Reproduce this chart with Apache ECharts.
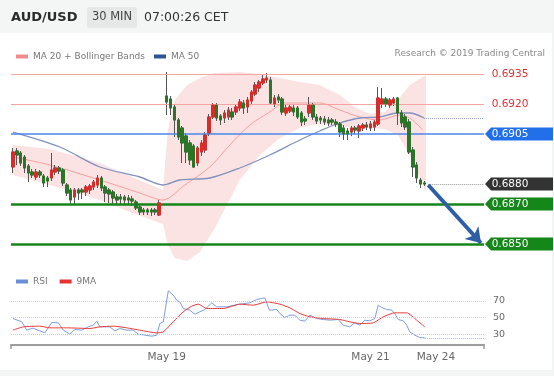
<!DOCTYPE html>
<html><head><meta charset="utf-8">
<script src="https://cdn.jsdelivr.net/npm/echarts@6/dist/echarts.min.js"></script>
<style>html,body{margin:0;padding:0;background:#fff}#c{width:554px;height:376px}</style>
</head><body><div id="c"></div>
<script>
const FONT = 'DejaVu Sans';
const SLOT_COUNT = 123;           // category slots across the plot
const GAP_SLOT = 39;              // weekend gap
const tickSlots = [40, 93, 110];
const tickLabels = ['May 19', 'May 21', 'May 24'];

// ---- candles (39 before the gap, 68 after) ----
const candleOpen = [
 .68885,.68965,.68955,.68935,.68890,.68860,.68835,.68860,.68840,.68830,.68830,.68860,.68880,.68870,.68795,.68770,.68735,.68770,.68770,.68760,
 .68770,.68785,.68795,.68830,.68785,.68770,.68760,.68735,.68735,.68735,.68730,.68725,.68710,.68685,.68670,.68670,.68670,.68670,.68645,
 .69240,.69225,.69185,.69120,.69080,.69040,.69005,.68990,.68905,.68960,.68970,.69055,.69135,.69195,.69140,.69130,.69135,.69160,.69160,.69180,
 .69205,.69185,.69215,.69250,.69280,.69305,.69320,.69320,.69200,.69235,.69225,.69155,.69165,.69180,.69180,.69155,.69125,.69155,.69195,.69135,
 .69130,.69125,.69120,.69120,.69110,.69100,.69080,.69065,.69060,.69080,.69065,.69080,.69095,.69080,.69085,.69100,.69200,.69225,.69195,.69205,
 .69230,.69155,.69135,.69110,.68970,.68895,.68820,.68805];
const candleClose = [
 .68960,.68945,.68905,.68880,.68855,.68845,.68860,.68845,.68805,.68815,.68870,.68880,.68865,.68805,.68755,.68720,.68770,.68755,.68760,.68785,
 .68790,.68810,.68830,.68780,.68755,.68750,.68730,.68720,.68725,.68720,.68720,.68715,.68680,.68660,.68660,.68660,.68660,.68660,.68705,
 .69210,.69180,.69120,.69035,.69005,.68960,.68920,.68885,.68980,.69005,.69045,.69135,.69195,.69130,.69120,.69155,.69170,.69135,.69185,.69210,
 .69180,.69220,.69260,.69295,.69310,.69325,.69330,.69205,.69230,.69220,.69160,.69180,.69185,.69160,.69135,.69110,.69115,.69195,.69135,.69115,
 .69120,.69110,.69105,.69110,.69100,.69060,.69050,.69050,.69080,.69070,.69090,.69095,.69085,.69100,.69110,.69230,.69225,.69200,.69220,.69225,
 .69155,.69105,.69085,.68960,.68885,.68830,.68800,.68800];
const candleLow = [
 .68855,.68895,.68890,.68855,.68810,.68830,.68820,.68830,.68785,.68785,.68815,.68845,.68850,.68790,.68740,.68695,.68700,.68720,.68725,.68740,
 .68750,.68770,.68780,.68765,.68710,.68705,.68700,.68695,.68695,.68700,.68695,.68690,.68670,.68645,.68645,.68645,.68640,.68645,.68640,
 .69145,.69145,.69035,.69020,.68905,.68905,.68895,.68880,.68890,.68940,.68955,.69040,.69125,.69115,.69095,.69105,.69120,.69120,.69145,.69165,
 .69150,.69155,.69200,.69240,.69260,.69295,.69305,.69195,.69185,.69205,.69145,.69140,.69155,.69140,.69125,.69090,.69095,.69135,.69120,.69100,
 .69100,.69095,.69090,.69095,.69085,.69035,.69020,.69020,.69040,.69050,.69030,.69065,.69070,.69065,.69065,.69090,.69180,.69185,.69180,.69190,
 .69095,.69085,.69070,.68950,.68835,.68805,.68780,.68790];
const candleHigh = [
 .68980,.68980,.68965,.68945,.68900,.68875,.68875,.68870,.68850,.68840,.68955,.68895,.68890,.68880,.68805,.68780,.68780,.68780,.68780,.68795,
 .68800,.68820,.68845,.68840,.68795,.68780,.68770,.68750,.68750,.68745,.68745,.68740,.68720,.68695,.68680,.68680,.68680,.68680,.68720,
 .69360,.69240,.69200,.69130,.69090,.69055,.69020,.69000,.68990,.69020,.69060,.69150,.69205,.69205,.69150,.69170,.69185,.69180,.69200,.69225,
 .69220,.69235,.69270,.69310,.69320,.69345,.69355,.69335,.69245,.69250,.69235,.69195,.69200,.69195,.69190,.69165,.69140,.69235,.69205,.69150,
 .69140,.69140,.69135,.69130,.69125,.69110,.69095,.69080,.69090,.69090,.69100,.69105,.69110,.69115,.69120,.69285,.69280,.69235,.69230,.69235,
 .69235,.69170,.69150,.69125,.68985,.68910,.68830,.68815];

// ---- indicator lines: [slot, price] ----
const ma20Slots  = [0, 9.6, 22.6, 33.0, 39.0, 44.7, 51.2, 56.4, 61.6, 66.8, 70.7, 79.8, 85.0, 90.2, 95.4, 100.6, 103.2, 106.6];
const ma20Values = [.68935,.68895,.68820,.68755,.68720,.68795,.68885,.68995,.69095,.69160,.69205,.69205,.69170,.69135,.69120,.69145,.69130,.69070];
const ma50Slots  = [0, 12.2, 22.6, 33.0, 39.0, 43.4, 51.2, 59.0, 66.8, 74.6, 79.8, 85.0, 90.2, 95.4, 99.9, 103.2, 106.9];
const ma50Values = [.69060,.68985,.68885,.68835,.68795,.68820,.68830,.68880,.68945,.69020,.69065,.69105,.69130,.69135,.69155,.69155,.69130];
const bbSlots = [0, 9.6, 22.6, 30.4, 39.0, 40.3, 42.1, 45.3, 48.6, 52.5, 59.0, 64.2, 69.4, 74.6, 79.8, 85.0, 88.9, 92.8, 96.7, 100.1, 103.2, 107.4];
const bbUpper = [.68995,.68975,.68905,.68840,.68770,.69070,.69220,.69295,.69330,.69355,.69360,.69350,.69330,.69310,.69295,.69245,.69185,.69150,.69160,.69220,.69295,.69345];
const bbLower = [.68845,.68795,.68720,.68660,.68600,.68495,.68430,.68415,.68460,.68580,.68820,.68945,.69030,.69080,.69100,.69090,.69080,.69080,.69075,.69045,.68945,.68760];

// ---- levels, tags, forecast arrow ----
const levelValues = [0.6935, 0.6920, 0.6905, 0.6880, 0.6870, 0.6850];
const levelKinds  = ['res', 'res', 'pivot', 'last', 'sup', 'sup'];
const lastFromSlot = 108;
const ma50LastValue = 0.69130;
const arrowFrom = [108, 0.68795];
const arrowTo   = [121.7, 0.68505];

// ---- RSI panel ----
const rsiSlots  = [0,2.3,3.6,5.2,7.0,8.3,10.1,11.8,13.1,14.8,16.1,17.9,19.6,20.9,21.8,22.6,25.2,26.5,27.8,29.6,31.3,32.6,34.3,36.1,37.4,38.2,39.1,
 40.4,41.7,42.6,43.4,44.3,46.0,47.3,48.6,49.9,51.7,53.0,55.6,59.0,61.6,63.4,65.5,66.7,68.6,69.4,70.7,72.0,73.3,74.6,75.9,77.2,79.0,80.7,82.4,84.6,
 85.9,87.6,88.9,90.2,91.5,92.8,94.1,95.0,95.9,97.2,98.5,99.3,100.2,101.5,102.4,103.2,104.5,105.8,107.1];
const rsiValues = [48.8,44.8,34.8,37.2,34.0,31.6,44.0,43.6,34.8,30.0,35.6,34.8,38.8,40.8,45.6,38.8,38.8,34.0,36.8,34.8,34.8,30.0,28.8,27.6,28.8,42.8,44.8,
 82.0,76.8,70.8,68.8,60.8,58.8,54.0,56.8,59.6,67.6,62.8,62.8,66.0,67.6,71.6,73.6,58.8,59.6,54.8,50.0,52.8,52.8,46.8,45.6,52.8,48.8,47.6,46.8,47.6,
 40.8,38.8,43.6,40.8,46.8,46.0,48.8,64.8,62.0,59.6,58.8,54.8,47.6,46.0,40.8,32.8,28.8,26.0,25.6];
const ma9Slots  = [0,2.7,7.0,9.6,14.0,20.0,22.6,26.1,29.6,33.0,37.4,39.1,41.7,44.3,46.5,48.2,50.4,54.7,59.0,62.5,66.0,69.4,72.0,74.6,77.2,80.7,85.0,87.6,90.2,93.7,96.3,99.3,102.4,105.0,107.1];
const ma9Values = [34.8,38.8,39.6,37.6,37.6,36.8,38.8,39.6,37.6,34.8,31.6,32.8,44.8,56.8,63.6,66.0,60.8,60.8,66.0,64.8,68.8,66.0,61.6,54.8,50.8,48.8,47.6,44.8,42.8,43.6,50.8,55.6,55.6,46.8,38.8];
const rsiLevels = [70, 50, 30];
const rsiLastValue = 25.6;

// ---- build ----
const cats = Array.from({length: SLOT_COUNT}, () => '');
tickSlots.forEach((s, i) => { cats[s] = tickLabels[i]; });
const wickData = [], bodyData = [];
let ci = 0;
for (let s = 0; s < candleOpen.length + 1; s++) {
  if (s === GAP_SLOT) { wickData.push('-'); bodyData.push('-'); continue; }
  const o = candleOpen[ci], c = candleClose[ci], l = candleLow[ci], h = candleHigh[ci];
  wickData.push([o, c, l, h]);
  bodyData.push([o, c, Math.min(o, c), Math.max(o, c)]);
  ci++;
}
const pairs = (xs, ys) => xs.map((x, i) => [x, ys[i]]);
const X0 = -0.5, X1 = SLOT_COUNT - 0.5;

const RED = '#d82c2a', GREEN = '#2b7529';
const levelStyle = {
  res:   {color: '#f5a3a3', width: 1, type: 'solid'},
  pivot: {color: '#4b87ea', width: 1.5, type: 'solid'},
  last:  null,
  sup:   {color: '#15861a', width: 2.5, type: 'solid'}
};
const tagStyle = {
  res:   {fill: 'rgba(0,0,0,0)', text: '#e4312f'},
  pivot: {fill: '#2270e9', text: '#fff'},
  last:  {fill: '#333333', text: '#fff'},
  sup:   {fill: '#15861a', text: '#fff'}
};
const levelLines = [];
levelValues.forEach((v, i) => {
  const st = levelStyle[levelKinds[i]];
  if (st) levelLines.push([{coord: [X0, v], lineStyle: st}, {coord: [X1, v]}]);
});
levelLines.push([{coord: [lastFromSlot, levelValues[3]], lineStyle: {color: '#9a9a9a', width: 1, type: 'dotted'}}, {coord: [X1, levelValues[3]]}]);
levelLines.push([{coord: [ma50Slots[ma50Slots.length - 1], ma50LastValue], lineStyle: {color: '#9aa6c8', width: 1, type: 'dotted'}}, {coord: [X1, ma50LastValue]}]);

const tagPoints = levelValues.map((v, i) => {
  const t = tagStyle[levelKinds[i]];
  return {coord: [X1, v], name: v.toFixed(4), itemStyle: {color: t.fill}, label: {color: t.text}};
});

const chart = echarts.init(document.getElementById('c'), null, {renderer: 'canvas', width: 554, height: 376});
const txt = (x, y, text, size, fill, weight, align) => ({
  type: 'text', x, y, silent: true,
  style: {text, fontSize: size, fontFamily: FONT, fontWeight: weight || 'normal', fill, align: align || 'left', verticalAlign: 'middle'}
});

chart.setOption({
  animation: false,
  backgroundColor: '#ffffff',
  textStyle: {fontFamily: FONT},
  graphic: [
    {type: 'rect', shape: {x: 0, y: 0, width: 554, height: 33}, style: {fill: '#f4f5f5'}, silent: true, z: -1},
    {type: 'rect', shape: {x: 0, y: 370, width: 554, height: 6}, style: {fill: '#f3f4f4'}, silent: true, z: -1},
    {type: 'rect', shape: {x: 552, y: 0, width: 2, height: 376}, style: {fill: '#f3f4f4'}, silent: true, z: -1},
    {type: 'rect', shape: {x: 87, y: 7, width: 50, height: 21, r: 2}, style: {fill: '#e6e8e8'}, silent: true},
    txt(11, 17.5, 'AUD/USD', 13, '#2b2b2b', 'bold'),
    txt(112, 17.5, '30 MIN', 11.5, '#444', 'normal', 'center'),
    txt(144, 17.5, '07:00:26 CET', 12.5, '#333'),
    txt(545, 53.5, 'Research \u00A9 2019 Trading Central', 9, '#8a8a8a', 'normal', 'right')
  ],
  legend: [
    {left: 11, top: 47, icon: 'rect', itemWidth: 12, itemHeight: 4, itemGap: 9, selectedMode: false,
     textStyle: {fontSize: 9, color: '#777', fontFamily: FONT},
     data: [{name: 'MA 20 + Bollinger Bands', itemStyle: {color: '#f08c8c'}}, {name: 'MA 50', itemStyle: {color: '#2c5597'}}]},
    {left: 11, top: 272, icon: 'rect', itemWidth: 12, itemHeight: 4, itemGap: 12, selectedMode: false,
     textStyle: {fontSize: 9, color: '#777', fontFamily: FONT},
     data: [{name: 'RSI', itemStyle: {color: '#6a8ed9'}}, {name: '9MA', itemStyle: {color: '#e63232'}}]}
  ],
  grid: [
    {left: 11, right: 70, top: 66, height: 196},
    {left: 11, right: 70, top: 285, height: 60}
  ],
  xAxis: [
    {type: 'category', gridIndex: 0, data: cats, boundaryGap: true, show: false},
    {type: 'value', gridIndex: 0, min: X0, max: X1, show: false},
    {type: 'category', gridIndex: 1, data: cats, boundaryGap: true,
     axisLine: {lineStyle: {color: '#9c9c9c', width: 2}},
     axisTick: {show: true, interval: (i) => i === 0, length: 4, lineStyle: {color: '#9c9c9c', width: 1.5}},
     axisLabel: {interval: 0, color: '#666', fontSize: 10.5, fontFamily: FONT, margin: 7},
     splitLine: {show: false}},
    {type: 'value', gridIndex: 1, min: X0, max: X1, show: false}
  ],
  yAxis: [
    {type: 'value', gridIndex: 0, min: 0.6841, max: 0.6939, show: false},
    {type: 'value', gridIndex: 1, min: 17, max: 89, show: false}
  ],
  series: [
    {type: 'custom', name: 'band', xAxisIndex: 1, yAxisIndex: 0, z: 1, silent: true, clip: true,
     data: [[bbSlots[0], bbUpper[0]]],
     renderItem: (params, api) => {
       const pts = [];
       for (let i = 0; i < bbSlots.length; i++) pts.push(api.coord([bbSlots[i], bbUpper[i]]));
       for (let i = bbSlots.length - 1; i >= 0; i--) pts.push(api.coord([bbSlots[i], bbLower[i]]));
       return {type: 'polygon', shape: {points: pts}, style: {fill: '#fce3e3'}};
     }},
    {type: 'line', name: 'levels', xAxisIndex: 1, yAxisIndex: 0, z: 2, silent: true, data: [],
     markLine: {silent: true, symbol: ['none', 'none'], label: {show: false}, animation: false, data: levelLines}},
    {type: 'line', name: 'MA 20 + Bollinger Bands', xAxisIndex: 1, yAxisIndex: 0, z: 3, silent: true,
     data: pairs(ma20Slots, ma20Values), showSymbol: false, symbol: 'none', smooth: 0.3,
     lineStyle: {color: '#f3a0a0', width: 1}, itemStyle: {color: '#f08c8c'}},
    {type: 'line', name: 'MA 50', xAxisIndex: 1, yAxisIndex: 0, z: 3, silent: true,
     data: pairs(ma50Slots, ma50Values), showSymbol: false, symbol: 'none', smooth: 0.3,
     lineStyle: {color: '#8290bd', width: 1.3}, itemStyle: {color: '#2c5597'}},
    {type: 'candlestick', name: 'wicks', xAxisIndex: 0, yAxisIndex: 0, z: 4, silent: true, barWidth: 3,
     data: wickData,
     itemStyle: {color: '#555', color0: '#555', borderColor: '#555', borderColor0: '#555', borderWidth: 1}},
    {type: 'candlestick', name: 'AUD/USD', xAxisIndex: 0, yAxisIndex: 0, z: 5, silent: true, barWidth: 3,
     data: bodyData,
     itemStyle: {color: RED, color0: GREEN, borderColor: RED, borderColor0: GREEN, borderWidth: 1}},
    {type: 'line', name: 'annot', xAxisIndex: 1, yAxisIndex: 0, z: 6, silent: true, data: [],
     markLine: {silent: true, symbol: ['none', 'arrow'], symbolSize: 14, label: {show: false},
       lineStyle: {color: '#2d5ea6', width: 4, type: 'solid'},
       data: [[{coord: arrowFrom}, {coord: arrowTo}]]},
     markPoint: {silent: true, symbol: 'path://M0,6L6,0L68,0L68,12L6,12Z', symbolSize: [68, 13], symbolKeepAspect: false,
       symbolOffset: [35, 0],
       label: {show: true, position: 'inside', formatter: '{b}', fontSize: 10.5, fontFamily: FONT, offset: [-9, 0]},
       data: tagPoints}},
    {type: 'line', name: 'RSI', xAxisIndex: 3, yAxisIndex: 1, z: 3, silent: true,
     data: pairs(rsiSlots, rsiValues), showSymbol: false, symbol: 'none',
     lineStyle: {color: '#7c9de0', width: 1}, itemStyle: {color: '#6a8ed9'},
     markLine: {silent: true, symbol: ['none', 'none'],
       data: rsiLevels.map(v => ({yAxis: v, lineStyle: {color: '#cfcfcf', width: 1, type: 'dotted'},
               label: {show: true, position: 'end', distance: 9, formatter: String(v), color: '#666', fontSize: 9.5, fontFamily: FONT}}))
         .concat([[{coord: [rsiSlots[rsiSlots.length - 1], rsiLastValue], lineStyle: {color: '#9fb5e6', width: 1, type: 'dotted'}, label: {show: false}},
                   {coord: [X1, rsiLastValue]}]])}},
    {type: 'line', name: '9MA', xAxisIndex: 3, yAxisIndex: 1, z: 4, silent: true,
     data: pairs(ma9Slots, ma9Values), showSymbol: false, symbol: 'none', smooth: 0.2,
     lineStyle: {color: '#ea3a3a', width: 1}, itemStyle: {color: '#e63232'}}
  ]
});
</script>
</body></html>
